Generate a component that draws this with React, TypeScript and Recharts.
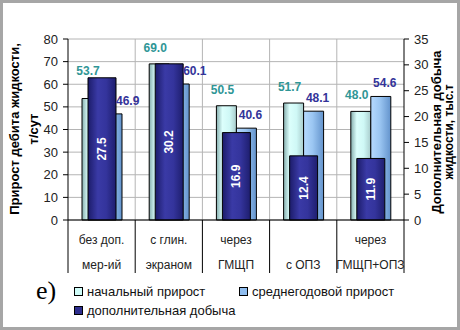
import React from 'react';
import { ComposedChart, Bar, XAxis, YAxis, CartesianGrid, LabelList } from 'recharts';

const categoryTop = ['без доп.', 'с глин.', 'через', '', 'через'];
const categoryBottom = ['мер-ий', 'экраном', 'ГМЩП', 'с ОПЗ', 'ГМЩП+ОПЗ'];
const initialGain = [53.7, 69.0, 50.5, 51.7, 48.0];
const averageGain = [46.9, 60.1, 40.6, 48.1, 54.6];
const extraProduction = [27.5, 30.2, 16.9, 12.4, 11.9];
const leftTicks = [0, 10, 20, 30, 40, 50, 60, 70, 80];
const rightTicks = [0, 5, 10, 15, 20, 25, 30, 35];
const seriesNames = ['начальный прирост', 'среднегодовой прирост', 'дополнительная добыча'];
const leftTitle = ['Прирост дебита жидкости,', 'т/сут'];
const rightTitle = ['Дополнительная добыча', 'жидкости, тыс.т'];
const panelLetter = 'е)';

const leftMax = leftTicks[leftTicks.length - 1];
const rightMax = rightTicks[rightTicks.length - 1];

const data = categoryBottom.map((c, i) => ({
  cat: String(i),
  initial: initialGain[i],
  average: averageGain[i],
  extra: extraProduction[i],
}));

const FONT = '"Liberation Sans", Arial, sans-serif';
const W = 460;
const H = 330;
const M = { top: 39, right: 16, bottom: 50, left: 8 };
const LEFT_W = 60;
const RIGHT_W = 40;
const PLOT_W = W - M.left - M.right - LEFT_W - RIGHT_W;
const BAND = PLOT_W / categoryBottom.length;

function darkTopFor(props: any) {
  const { y, height, value, index } = props;
  const bottom = y + height;
  const pxPerUnit = height / value;
  return bottom - extraProduction[index] * pxPerUnit * (leftMax / rightMax);
}

const InitialLabel = (props: any) => {
  const { x, y, width, value } = props;
  const darkTop = darkTopFor(props);
  const by = Math.min(y - 12, darkTop - 3);
  return (
    <text x={x + width / 2 - 4} y={by} textAnchor="middle" fill="#2f9696" fontFamily={FONT} fontWeight="bold" fontSize={12}>
      {Number(value).toFixed(1)}
    </text>
  );
};

const AverageLabel = (props: any) => {
  const { x, y, width, value } = props;
  const darkTop = darkTopFor(props);
  const covered = darkTop < y;
  return (
    <text
      x={covered ? x + 14 : x + width / 2 + 4}
      y={y - 9}
      textAnchor={covered ? 'start' : 'middle'}
      fill="#333399"
      fontFamily={FONT}
      fontWeight="bold"
      fontSize={12}
    >
      {Number(value).toFixed(1)}
    </text>
  );
};

const ExtraLabel = (props: any) => {
  const { x, y, width, height, value } = props;
  const cx = x + width / 2;
  const cy = y + height / 2;
  return (
    <text
      x={cx}
      y={cy}
      transform={`rotate(-90, ${cx}, ${cy})`}
      textAnchor="middle"
      dominantBaseline="central"
      fill="#ffffff"
      fontFamily={FONT}
      fontWeight="bold"
      fontSize={12}
    >
      {Number(value).toFixed(1)}
    </text>
  );
};

const CategoryTick = (props: any) => {
  const { x, y, payload } = props;
  const i = Number(payload.value);
  const half = payload.offset && payload.offset > 1 ? payload.offset : BAND / 2;
  return (
    <g>
      {i === 0 && <line x1={x - half} x2={x - half} y1={y} y2={y + 53} stroke="#000" strokeWidth={1} />}
      <line x1={x + half} x2={x + half} y1={y} y2={y + 53} stroke="#000" strokeWidth={1} />
      <text x={x} y={y + 24} textAnchor="middle" fill="#222" fontFamily={FONT} fontSize={12}>
        {categoryTop[i]}
      </text>
      <text x={x} y={y + 49} textAnchor="middle" fill="#222" fontFamily={FONT} fontSize={12}>
        {categoryBottom[i]}
      </text>
    </g>
  );
};

const LeftTitle = () => {
  const cy = 129;
  return (
    <g>
      <text x={19} y={cy} transform={`rotate(-90, 19, ${cy})`} textAnchor="middle" fontFamily={FONT} fontWeight="bold" fontSize={13} fill="#000">
        {leftTitle[0]}
      </text>
      <text x={38} y={cy} transform={`rotate(-90, 38, ${cy})`} textAnchor="middle" fontFamily={FONT} fontWeight="bold" fontSize={13} fill="#000">
        {leftTitle[1]}
      </text>
    </g>
  );
};

const RightTitle = () => {
  const cy = 132;
  return (
    <g>
      <text x={441} y={cy} transform={`rotate(-90, 441, ${cy})`} textAnchor="middle" fontFamily={FONT} fontWeight="bold" fontSize={13} fill="#000">
        {rightTitle[0]}
      </text>
      <text x={453} y={cy} transform={`rotate(-90, 453, ${cy})`} textAnchor="middle" fontFamily={FONT} fontWeight="bold" fontSize={12} fill="#000">
        {rightTitle[1]}
      </text>
    </g>
  );
};

const swatch = (bg: string) => ({
  display: 'inline-block',
  width: 7,
  height: 7,
  background: bg,
  border: '1px solid #000',
  marginRight: 4,
  verticalAlign: 'middle',
  position: 'relative' as const,
  top: -1,
});

export default function App() {
  return (
    <div style={{ position: 'relative', width: W, height: H, overflow: 'hidden', background: '#fff' }}>
      <style>{`body{margin:0}`}</style>
      <ComposedChart width={W} height={H} data={data} margin={M} barGap={0} barCategoryGap={0}>
        <defs>
          <linearGradient id="gInit" x1="0" x2="1" y1="0" y2="0">
            <stop offset="0%" stopColor="#86aeae" />
            <stop offset="30%" stopColor="#dcfffc" />
            <stop offset="65%" stopColor="#cff8f6" />
            <stop offset="100%" stopColor="#a9cccc" />
          </linearGradient>
          <linearGradient id="gAvg" x1="0" x2="1" y1="0" y2="0">
            <stop offset="0%" stopColor="#b6daff" />
            <stop offset="45%" stopColor="#9bc6f2" />
            <stop offset="100%" stopColor="#6393cc" />
          </linearGradient>
          <linearGradient id="gExtra" x1="0" x2="1" y1="0" y2="0">
            <stop offset="0%" stopColor="#1c1c6a" />
            <stop offset="35%" stopColor="#3a3aa6" />
            <stop offset="65%" stopColor="#34349c" />
            <stop offset="100%" stopColor="#1e1e6e" />
          </linearGradient>
        </defs>
        <CartesianGrid
          xAxisId="a"
          yAxisId="left"
          stroke="#b4b4b4"
          verticalCoordinatesGenerator={({ offset }: any) =>
            categoryBottom.slice(1).map((_, i) => offset.left + (i + 1) * (offset.width / categoryBottom.length))
          }
        />
        <XAxis
          xAxisId="a"
          dataKey="cat"
          height={60}
          axisLine={{ stroke: '#000' }}
          tickLine={false}
          tickSize={0}
          tickMargin={0}
          interval={0}
          tick={<CategoryTick />}
        />
        <XAxis xAxisId="b" dataKey="cat" hide />
        <YAxis
          yAxisId="left"
          width={LEFT_W}
          domain={[0, leftMax]}
          ticks={leftTicks}
          interval={0}
          axisLine={{ stroke: '#000' }}
          tickLine={{ stroke: '#000' }}
          tickSize={5}
          tickMargin={5}
          tick={{ fill: '#222', fontFamily: FONT, fontSize: 13 }}
          label={<LeftTitle />}
        />
        <YAxis
          yAxisId="right"
          orientation="right"
          width={RIGHT_W}
          domain={[0, rightMax]}
          ticks={rightTicks}
          interval={0}
          axisLine={{ stroke: '#000' }}
          tickLine={{ stroke: '#000' }}
          tickSize={5}
          tickMargin={5}
          tick={{ fill: '#222', fontFamily: FONT, fontSize: 13 }}
          label={<RightTitle />}
        />
        <Bar xAxisId="a" yAxisId="left" dataKey="initial" name={seriesNames[0]} barSize={20} fill="url(#gInit)" stroke="#000" strokeWidth={1} isAnimationActive={false}>
          <LabelList dataKey="initial" content={<InitialLabel />} />
        </Bar>
        <Bar xAxisId="a" yAxisId="left" dataKey="average" name={seriesNames[1]} barSize={20} fill="url(#gAvg)" stroke="#000" strokeWidth={1} isAnimationActive={false}>
          <LabelList dataKey="average" content={<AverageLabel />} />
        </Bar>
        <Bar xAxisId="b" yAxisId="right" dataKey="extra" name={seriesNames[2]} barSize={28} fill="url(#gExtra)" stroke="#000" strokeWidth={1} isAnimationActive={false}>
          <LabelList dataKey="extra" content={<ExtraLabel />} />
        </Bar>
      </ComposedChart>
      <div style={{ position: 'absolute', left: 36, top: 276, fontFamily: '"Liberation Serif", "Times New Roman", serif', fontSize: 26, lineHeight: '30px', color: '#000' }}>
        {panelLetter}
      </div>
      <div style={{ position: 'absolute', left: 74, top: 284, fontFamily: FONT, fontSize: 13, lineHeight: '16px', color: '#111', whiteSpace: 'nowrap' }}>
        <span style={swatch('#cffcf8')} />
        {seriesNames[0]}
      </div>
      <div style={{ position: 'absolute', left: 239, top: 284, fontFamily: FONT, fontSize: 13, lineHeight: '16px', color: '#111', whiteSpace: 'nowrap' }}>
        <span style={swatch('#8fbdef')} />
        {seriesNames[1]}
      </div>
      <div style={{ position: 'absolute', left: 74, top: 303, fontFamily: FONT, fontSize: 13, lineHeight: '16px', color: '#111', whiteSpace: 'nowrap' }}>
        <span style={swatch('#2e2e8e')} />
        {seriesNames[2]}
      </div>
      <div
        style={{
          position: 'absolute',
          left: 0,
          top: 0,
          width: W,
          height: H,
          boxSizing: 'border-box',
          borderStyle: 'solid',
          borderColor: '#a6a6a6',
          borderWidth: '3px 3px 3px 3px',
          pointerEvents: 'none',
        }}
      />
    </div>
  );
}
